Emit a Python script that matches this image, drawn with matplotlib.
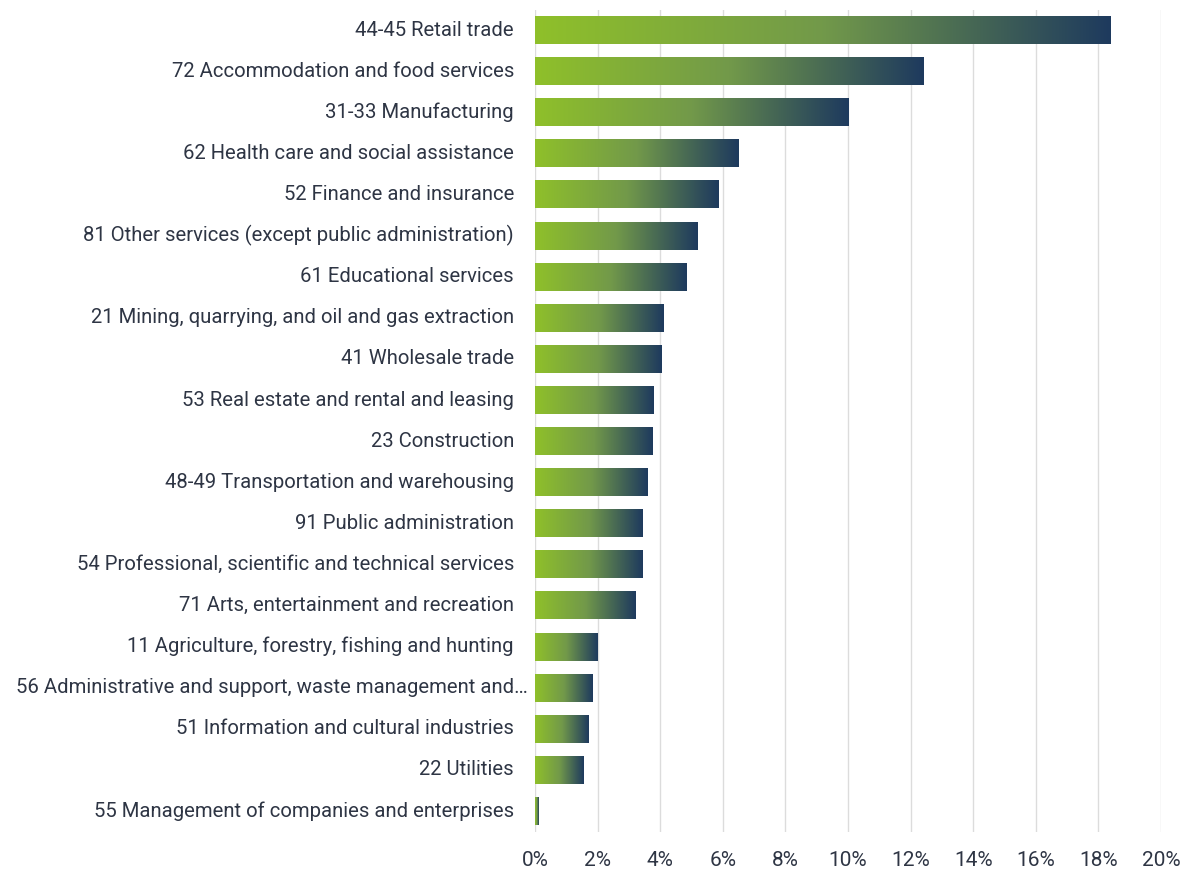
import numpy as np
import matplotlib
matplotlib.use("Agg")
import matplotlib.pyplot as plt
import matplotlib.transforms as mtransforms
from matplotlib.colors import LinearSegmentedColormap
from matplotlib.ticker import FuncFormatter

categories = [
    "44-45 Retail trade",
    "72 Accommodation and food services",
    "31-33 Manufacturing",
    "62 Health care and social assistance",
    "52 Finance and insurance",
    "81 Other services (except public administration)",
    "61 Educational services",
    "21 Mining, quarrying, and oil and gas extraction",
    "41 Wholesale trade",
    "53 Real estate and rental and leasing",
    "23 Construction",
    "48-49 Transportation and warehousing",
    "91 Public administration",
    "54 Professional, scientific and technical services",
    "71 Arts, entertainment and recreation",
    "11 Agriculture, forestry, fishing and hunting",
    "56 Administrative and support, waste management and\u2026",
    "51 Information and cultural industries",
    "22 Utilities",
    "55 Management of companies and enterprises",
]
values = [18.4, 12.4, 10.0, 6.5, 5.85, 5.2, 4.85, 4.1, 4.05, 3.8,
          3.75, 3.6, 3.45, 3.42, 3.2, 2.0, 1.85, 1.72, 1.55, 0.12]
xticks = [0, 2, 4, 6, 8, 10, 12, 14, 16, 18, 20]

plt.rcParams['font.family'] = ['Roboto', 'DejaVu Sans']
text_color = "#2E3544"

fig = plt.figure(figsize=(11.88, 8.71), dpi=100)
ax = fig.add_axes([0.4503, 0.0453, 0.5270, 0.9437])

cmap = LinearSegmentedColormap.from_list("g", ["#8FC02A", "#72994A", "#1E3A5E"])
grad = np.linspace(0, 1, 256).reshape(1, -1)

n = len(categories)
ypos = np.arange(n)
h = 0.68
for y, v in zip(ypos, values):
    ax.imshow(grad, cmap=cmap, aspect='auto', extent=[0, v, y + h / 2, y - h / 2],
              interpolation='bilinear', zorder=3)

ax.set_xlim(0, 20)
ax.set_ylim(n - 0.5, -0.5)
ax.set_xticks(xticks)
ax.xaxis.set_major_formatter(FuncFormatter(lambda x, p: f"{int(x)}%"))
ax.set_yticks(ypos)
ax.set_yticklabels([])
ax.grid(axis='x', color="#DCDCDC", linewidth=1, zorder=0)
ax.set_axisbelow(True)
for s in ax.spines.values():
    s.set_visible(False)
ax.tick_params(axis='both', length=0, labelcolor=text_color)
ax.tick_params(axis='x', pad=14, labelsize=15)

base = ax.get_yaxis_transform()
for y, lab in zip(ypos, categories):
    off_px = 7 if lab.endswith("\u2026") else 21
    tr = base + mtransforms.ScaledTranslation(-off_px / 100, 0, fig.dpi_scale_trans)
    ax.text(0, y, lab, transform=tr, ha='right', va='center',
            fontsize=14.6, color=text_color)

fig.savefig("out.png", dpi=100)
